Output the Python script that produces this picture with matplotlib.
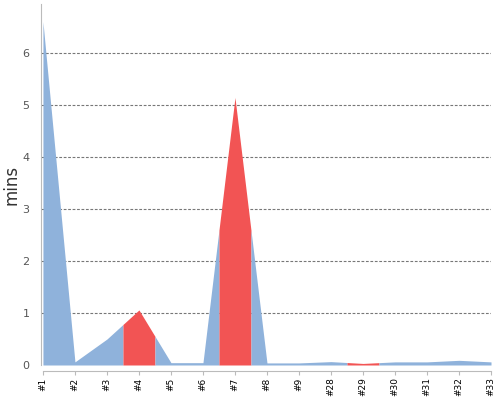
import matplotlib
matplotlib.use("Agg")
import matplotlib.pyplot as plt
import numpy as np

categories = ["#1", "#2", "#3", "#4", "#5", "#6", "#7", "#8", "#9",
              "#28", "#29", "#30", "#31", "#32", "#33"]
values = [6.61, 0.06, 0.50, 1.06, 0.045, 0.045, 5.15, 0.04, 0.04,
          0.065, 0.03, 0.06, 0.06, 0.09, 0.06]
highlighted = ["#4", "#7", "#29"]

blue = "#8fb2db"
red = "#f25454"

fig = plt.figure(figsize=(5, 4), dpi=100)
ax = fig.add_axes([0.0814, 0.0875, 0.9006, 0.9025])

x = np.arange(len(categories))
v = np.array(values)
cols = [red if c in highlighted else blue for c in categories]

# group consecutive points of the same colour; each run extends half a step
# on each side to the midpoint of the neighbouring segment
n = len(x)
i = 0
while i < n:
    j = i
    while j + 1 < n and cols[j + 1] == cols[i]:
        j += 1
    xs, ys = [], []
    if i > 0:
        xs.append((x[i - 1] + x[i]) / 2)
        ys.append((v[i - 1] + v[i]) / 2)
    xs.extend(x[i:j + 1])
    ys.extend(v[i:j + 1])
    if j < n - 1:
        xs.append((x[j] + x[j + 1]) / 2)
        ys.append((v[j] + v[j + 1]) / 2)
    ax.fill_between(xs, ys, 0, color=cols[i], lw=0, zorder=2)
    i = j + 1

ax.set_xlim(-0.07, 14.0)
ax.set_ylim(0, 6.95)
ax.set_yticks([0, 1, 2, 3, 4, 5, 6])
ax.set_xticks(x)
ax.set_xticklabels(categories)

ax.grid(axis="y", linestyle=(0, (2.5, 1.5)), color="#777777", linewidth=0.8, zorder=1)
ax.set_axisbelow(True)
ax.yaxis.get_gridlines()[0].set_visible(False)

for s in ["top", "right"]:
    ax.spines[s].set_visible(False)
ax.spines["left"].set_color("#bbbbbb")
ax.spines["left"].set_bounds(0, 6.95)
ax.spines["bottom"].set_position(("outward", 4))
ax.spines["bottom"].set_bounds(0, 14)
ax.spines["bottom"].set_color("#bbbbbb")

ax.tick_params(axis="y", length=0, pad=8, labelsize=8, labelcolor="#555555")
ax.tick_params(axis="x", length=3, color="#bbbbbb", pad=2, labelrotation=90,
               labelsize=6.5, labelcolor="black")

ax.set_ylabel("mins", fontsize=12, color="#333333")
ax.yaxis.set_label_coords(-0.045, 0.5)

fig.savefig("out.png", dpi=100)
